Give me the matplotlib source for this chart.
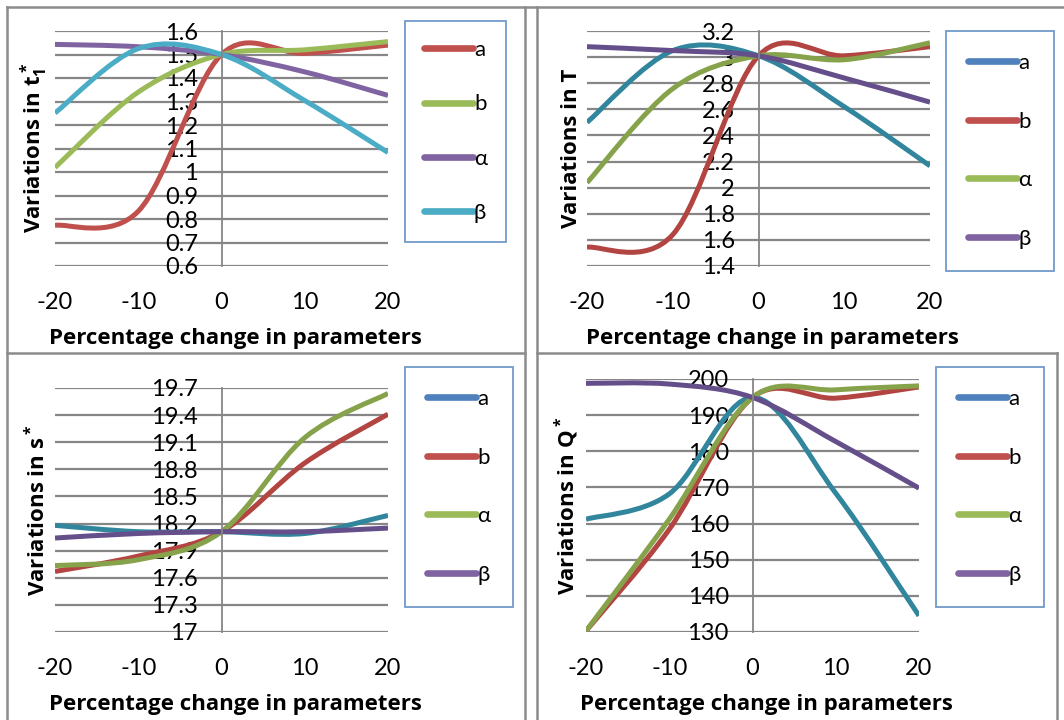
import matplotlib
matplotlib.use('Agg')
import matplotlib.pyplot as plt
from matplotlib.path import Path
from matplotlib.patches import PathPatch
from matplotlib.lines import Line2D

plt.rcParams['font.family'] = ['Lato', 'DejaVu Sans']
plt.rcParams['axes.unicode_minus'] = False
plt.rcParams['mathtext.fontset'] = 'custom'
plt.rcParams['mathtext.rm'] = 'Open Sans'
plt.rcParams['mathtext.bf'] = 'Open Sans:bold'

# percentage change in parameters
pct = [-20, -10, 0, 10, 20]

# variations in t1*
t1_a = [0.773, 0.833, 1.50, 1.505, 1.54]
t1_b = [1.019, 1.34, 1.50, 1.52, 1.555]
t1_alpha = [1.543, 1.533, 1.50, 1.426, 1.326]
t1_beta = [1.251, 1.525, 1.50, 1.304, 1.083]

# variations in T
T_a = [2.50, 3.05, 3.01, 2.62, 2.167]
T_b = [1.544, 1.64, 3.01, 3.01, 3.08]
T_alpha = [2.038, 2.758, 3.01, 2.98, 3.11]
T_beta = [3.08, 3.05, 3.01, 2.84, 2.655]

# variations in s*
s_a = [18.18, 18.11, 18.11, 18.09, 18.29]
s_b = [17.67, 17.84, 18.11, 18.87, 19.41]
s_alpha = [17.735, 17.80, 18.11, 19.15, 19.64]
s_beta = [18.04, 18.09, 18.11, 18.11, 18.15]

# variations in Q*
Q_a = [161.2, 168.2, 194.9, 168.4, 134.5]
Q_b = [130.3, 158.4, 194.9, 194.7, 197.8]
Q_alpha = [130.3, 161.2, 194.9, 197.0, 198.1]
Q_beta = [198.8, 198.6, 194.9, 182.7, 169.8]

labels = ['a', 'b', 'α', 'β']

# panel 1 uses bright office colours, the other panels darker ones
cols1 = ['#C0504D', '#9BBB59', '#8064A2', '#4BACC6']
cols_line = ['#31869E', '#B24541', '#86A34B', '#654F8A']
cols_leg = ['#4F81BD', '#C0504D', '#9BBB59', '#8064A2']

W, H = 1064, 720
fig = plt.figure(figsize=(W / 100, H / 100), dpi=100)
bold = {'family': 'Open Sans', 'weight': 'bold', 'size': 16}


def smooth_path(xs, ys):
    # excel style smoothed line: cubic bezier through every point
    pts = list(zip(xs, ys))
    n = len(pts)
    verts = [pts[0]]
    codes = [Path.MOVETO]
    for i in range(n - 1):
        p0 = pts[max(i - 1, 0)]
        p1 = pts[i]
        p2 = pts[i + 1]
        p3 = pts[min(i + 2, n - 1)]
        c1 = (p1[0] + (p2[0] - p0[0]) / 6, p1[1] + (p2[1] - p0[1]) / 6)
        c2 = (p2[0] - (p3[0] - p1[0]) / 6, p2[1] - (p3[1] - p1[1]) / 6)
        verts += [c1, c2, p2]
        codes += [Path.CURVE4] * 3
    return Path(verts, codes)


def panel(box, ylim, step, series, line_cols, leg_cols, ylabel, leg_box,
          spacing, bpad):
    x0, y0, x1, y1 = box
    w, h = x1 - x0, y1 - y0
    ax = fig.add_axes([x0 / W, 1 - y1 / H, w / W, h / H])
    ax.set_xlim(-20, 20)
    ax.set_ylim(*ylim)
    ticks = []
    v = ylim[0]
    while v <= ylim[1] + 1e-9:
        ticks.append(round(v, 4))
        v += step
    ax.set_yticks(ticks)
    ax.set_yticklabels([f'{t:g}' for t in ticks])
    ax.set_xticks(pct)
    for sp in ['top', 'right', 'bottom']:
        ax.spines[sp].set_visible(False)
    ax.spines['left'].set_position(('data', 0))
    ax.spines['left'].set_color('#868686')
    ax.spines['left'].set_linewidth(1.3)
    ax.grid(axis='y', color='#868686', lw=1.6)
    ax.set_axisbelow(True)
    ax.tick_params(axis='y', length=0, pad=17, labelsize=17)
    ax.tick_params(axis='x', length=0, pad=19, labelsize=17)
    for ys, c in zip(series, line_cols):
        ax.add_patch(PathPatch(smooth_path(pct, ys), fill=False, edgecolor=c,
                               lw=3.6, joinstyle='round', capstyle='butt'))
    ax.set_xlabel('Percentage change in parameters', fontdict=bold)
    ax.xaxis.set_label_coords((235 - 55) / 333, -62 / h)
    ax.set_ylabel(ylabel, fontdict=bold)
    ax.yaxis.set_label_coords(-5 / w, 0.5)
    handles = [Line2D([], [], color=c, lw=4.8, solid_capstyle='round')
               for c in leg_cols]
    lx0, ly0 = leg_box
    leg = ax.legend(handles, labels, loc='upper left',
                    bbox_to_anchor=(lx0 / W, 1 - ly0 / H),
                    bbox_transform=fig.transFigure, borderaxespad=0,
                    fontsize=16, handlelength=2.2, handletextpad=0.05,
                    labelspacing=spacing, borderpad=bpad, fancybox=False,
                    frameon=True)
    fr = leg.get_frame()
    fr.set_edgecolor('#4F81BD')
    fr.set_linewidth(1.3)
    return ax


panel((55, 31, 388, 266), (0.6, 1.6), 0.1,
      [t1_a, t1_b, t1_alpha, t1_beta], cols1, cols1,
      r'Variations in $\mathbf{t_1^*}$', (405, 21), 1.55, 0.85)

panel((587, 31, 930, 266), (1.4, 3.2), 0.2,
      [T_a, T_b, T_alpha, T_beta], cols_line, cols_leg,
      'Variations in T', (946, 31), 1.73, 1.0)

panel((55, 388, 388, 632), (17, 19.7), 0.3,
      [s_a, s_b, s_alpha, s_beta], cols_line, cols_leg,
      r'Variations in $\mathbf{s^*}$', (405, 367), 1.73, 1.0)

panel((586, 379, 919, 632), (130, 200), 10,
      [Q_a, Q_b, Q_alpha, Q_beta], cols_line, cols_leg,
      r'Variations in $\mathbf{Q^*}$', (936, 367), 1.73, 1.0)

# table borders around the four charts
bc = '#8C8C8C'
for xs, ys in [((7, 7), (7, 720)), ((7, 1064), (7, 7)),
               ((525, 525), (7, 720)), ((537, 537), (7, 720)),
               ((7, 525), (353, 353)), ((537, 1057), (353, 353)),
               ((1057, 1057), (353, 720))]:
    fig.add_artist(Line2D([x / W for x in xs], [1 - y / H for y in ys],
                          color=bc, lw=1.8))

fig.savefig('out.png', dpi=100)
